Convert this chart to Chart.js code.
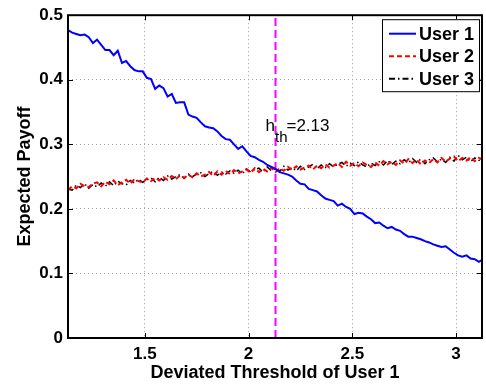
<!DOCTYPE html>
<html>
<head>
<meta charset="utf-8">
<script src="https://cdn.jsdelivr.net/npm/chart.js@4/dist/chart.umd.min.js"></script>
<style>
  html, body { margin: 0; padding: 0; background: #fff; }
  #wrap { width: 486px; height: 388px; }
</style>
</head>
<body>
<div id="wrap"><canvas id="payoffChart"></canvas></div>
<script>
// deviated threshold grid (x), step 0.02
const thresholds = [
  1.13, 1.15, 1.17, 1.19, 1.21, 1.23, 1.25, 1.27, 1.29, 1.31,
  1.33, 1.35, 1.37, 1.39, 1.41, 1.43, 1.45, 1.47, 1.49, 1.51,
  1.53, 1.55, 1.57, 1.59, 1.61, 1.63, 1.65, 1.67, 1.69, 1.71,
  1.73, 1.75, 1.77, 1.79, 1.81, 1.83, 1.85, 1.87, 1.89, 1.91,
  1.93, 1.95, 1.97, 1.99, 2.01, 2.03, 2.05, 2.07, 2.09, 2.11,
  2.13, 2.15, 2.17, 2.19, 2.21, 2.23, 2.25, 2.27, 2.29, 2.31,
  2.33, 2.35, 2.37, 2.39, 2.41, 2.43, 2.45, 2.47, 2.49, 2.51,
  2.53, 2.55, 2.57, 2.59, 2.61, 2.63, 2.65, 2.67, 2.69, 2.71,
  2.73, 2.75, 2.77, 2.79, 2.81, 2.83, 2.85, 2.87, 2.89, 2.91,
  2.93, 2.95, 2.97, 2.99, 3.01, 3.03, 3.05, 3.07, 3.09, 3.11,
  3.13
];

const user1 = [
  0.477, 0.473, 0.471, 0.469, 0.470, 0.466, 0.457, 0.462, 0.454, 0.446,
  0.446, 0.438, 0.445, 0.426, 0.429, 0.421, 0.415, 0.413, 0.413, 0.403,
  0.401, 0.386, 0.391, 0.387, 0.374, 0.378, 0.364, 0.365, 0.365, 0.346,
  0.343, 0.341, 0.334, 0.328, 0.326, 0.325, 0.320, 0.313, 0.308, 0.307,
  0.300, 0.293, 0.297, 0.289, 0.282, 0.280, 0.276, 0.273, 0.268, 0.265,
  0.262, 0.257, 0.255, 0.253, 0.250, 0.244, 0.239, 0.238, 0.231, 0.229,
  0.227, 0.221, 0.216, 0.214, 0.212, 0.205, 0.208, 0.203, 0.200, 0.192,
  0.194, 0.193, 0.188, 0.184, 0.178, 0.179, 0.174, 0.170, 0.172, 0.168,
  0.166, 0.161, 0.157, 0.157, 0.155, 0.153, 0.150, 0.148, 0.145, 0.143,
  0.141, 0.142, 0.137, 0.132, 0.128, 0.126, 0.128, 0.123, 0.122, 0.118,
  0.122
];

const user2 = [
  0.229, 0.235, 0.232, 0.239, 0.235, 0.234, 0.239, 0.241, 0.235, 0.242,
  0.238, 0.244, 0.237, 0.241, 0.245, 0.239, 0.246, 0.243, 0.241, 0.247,
  0.243, 0.248, 0.244, 0.249, 0.245, 0.251, 0.246, 0.252, 0.248, 0.253,
  0.249, 0.255, 0.250, 0.253, 0.257, 0.251, 0.258, 0.253, 0.259, 0.254,
  0.260, 0.255, 0.258, 0.261, 0.256, 0.263, 0.257, 0.262, 0.258, 0.264,
  0.257, 0.263, 0.259, 0.265, 0.260, 0.266, 0.261, 0.264, 0.267, 0.261,
  0.267, 0.263, 0.269, 0.264, 0.267, 0.271, 0.265, 0.273, 0.267, 0.271,
  0.266, 0.272, 0.268, 0.265, 0.272, 0.267, 0.274, 0.269, 0.273, 0.268,
  0.275, 0.270, 0.277, 0.271, 0.276, 0.269, 0.275, 0.271, 0.277, 0.272,
  0.279, 0.273, 0.278, 0.281, 0.274, 0.279, 0.275, 0.280, 0.274, 0.279,
  0.276
];

const user3 = [
  0.231, 0.229, 0.237, 0.233, 0.239, 0.232, 0.238, 0.234, 0.240, 0.235,
  0.242, 0.236, 0.243, 0.239, 0.237, 0.244, 0.240, 0.246, 0.241, 0.245,
  0.248, 0.242, 0.249, 0.244, 0.251, 0.246, 0.250, 0.253, 0.247, 0.254,
  0.250, 0.254, 0.256, 0.250, 0.255, 0.258, 0.252, 0.257, 0.254, 0.259,
  0.255, 0.260, 0.254, 0.262, 0.257, 0.261, 0.263, 0.257, 0.265, 0.259,
  0.263, 0.258, 0.266, 0.260, 0.264, 0.259, 0.266, 0.261, 0.265, 0.269,
  0.262, 0.268, 0.264, 0.270, 0.265, 0.269, 0.272, 0.266, 0.271, 0.267,
  0.273, 0.268, 0.265, 0.271, 0.267, 0.273, 0.268, 0.275, 0.269, 0.274,
  0.270, 0.276, 0.271, 0.278, 0.272, 0.277, 0.270, 0.276, 0.279, 0.273,
  0.277, 0.272, 0.280, 0.274, 0.283, 0.276, 0.280, 0.273, 0.279, 0.275,
  0.277
];

const xTicks = [1.5, 2, 2.5, 3];
const yTicks = [0, 0.1, 0.2, 0.3, 0.4, 0.5];
const hth = 2.13;           // equilibrium threshold marker
const hthLabelY = 0.321;    // where the h_th text sits

const FONT = '"Liberation Sans", Arial, Helvetica, sans-serif';

function pts(ys){
  return ys.map((y, i) => ({x: thresholds[i], y: y}));
}

// box, inward tick marks, h_th label and legend drawn on top
const matlabAxes = {
  id: 'matlabAxes',
  afterDraw(chart){
    const ctx = chart.ctx;
    const a = chart.chartArea;
    const xs = chart.scales.x, ys = chart.scales.y;
    ctx.save();
    // tick marks pointing inwards
    ctx.strokeStyle = '#000';
    ctx.lineWidth = 1;
    ctx.beginPath();
    xTicks.forEach(v => {
      const px = Math.round(xs.getPixelForValue(v)) + 0.5;
      ctx.moveTo(px, a.bottom); ctx.lineTo(px, a.bottom - 5);
      ctx.moveTo(px, a.top); ctx.lineTo(px, a.top + 5);
    });
    yTicks.forEach(v => {
      const py = Math.round(ys.getPixelForValue(v)) + 0.5;
      ctx.moveTo(a.left, py); ctx.lineTo(a.left + 5, py);
      ctx.moveTo(a.right, py); ctx.lineTo(a.right - 5, py);
    });
    ctx.stroke();
    // axes box
    ctx.lineWidth = 2;
    ctx.strokeRect(a.left, a.top, a.right - a.left, a.bottom - a.top);

    // h_th = 2.13 label
    const bx = xs.getPixelForValue(hth) - 10;
    const by = ys.getPixelForValue(hthLabelY);
    ctx.fillStyle = '#000';
    ctx.textBaseline = 'alphabetic';
    ctx.textAlign = 'left';
    ctx.font = '17px ' + FONT;
    ctx.fillText('h', bx, by);
    let cx = bx + ctx.measureText('h').width;
    ctx.font = '15px ' + FONT;
    ctx.fillText('th', cx, by + 11);
    cx += ctx.measureText('th').width - 1;
    ctx.font = '17px ' + FONT;
    ctx.fillText('=' + hth.toFixed(2), cx, by);

    // legend in the upper right corner
    const sets = chart.data.datasets.slice(0, 3);
    const lx = a.right - 100, ly = a.top + 4, lw = 97, lh = 72;
    ctx.fillStyle = '#fff';
    ctx.fillRect(lx, ly, lw, lh);
    ctx.lineWidth = 1;
    ctx.strokeStyle = '#000';
    ctx.strokeRect(lx + 0.5, ly + 0.5, lw, lh);
    sets.forEach((ds, i) => {
      const ry = ly + 14.5 + i * 22.5;
      ctx.beginPath();
      ctx.strokeStyle = ds.borderColor;
      ctx.lineWidth = 2;
      ctx.setLineDash(ds.borderDash || []);
      ctx.moveTo(lx + 7, ry);
      ctx.lineTo(lx + 34, ry);
      ctx.stroke();
      ctx.setLineDash([]);
      ctx.fillStyle = '#000';
      ctx.font = 'bold 18px ' + FONT;
      ctx.textBaseline = 'middle';
      ctx.fillText(ds.label, lx + 37, ry + 1);
    });
    ctx.restore();
  }
};

new Chart(document.getElementById('payoffChart'), {
  type: 'line',
  data: {
    datasets: [
      {
        label: 'User 1',
        data: pts(user1),
        borderColor: '#0000ff',
        borderWidth: 2,
        pointRadius: 0,
        tension: 0
      },
      {
        label: 'User 2',
        data: pts(user2),
        borderColor: '#ff0000',
        borderWidth: 2,
        borderDash: [5, 3],
        pointRadius: 0,
        tension: 0
      },
      {
        label: 'User 3',
        data: pts(user3),
        borderColor: '#000000',
        borderWidth: 1.5,
        borderDash: [6, 3, 1.5, 3],
        pointRadius: 0,
        tension: 0
      },
      {
        label: 'threshold',
        data: [{x: hth, y: 0}, {x: hth, y: 0.5}],
        borderColor: '#ff00ff',
        borderWidth: 2,
        borderDash: [8, 4],
        pointRadius: 0
      }
    ]
  },
  options: {
    responsive: true,
    maintainAspectRatio: false,
    animation: false,
    layout: { padding: { top: 11, right: 4, left: 0, bottom: 0 } },
    scales: {
      x: {
        type: 'linear',
        min: 1.13,
        max: 3.125,
        afterBuildTicks: s => { s.ticks = xTicks.map(v => ({value: v})); },
        afterFit: s => { s.height = 50; },
        ticks: {
          color: '#000',
          padding: 6,
          maxRotation: 0,
          font: { family: FONT, size: 17, weight: 'bold' },
          callback: v => String(v)
        },
        grid: { color: '#a0a0a0', drawTicks: false, lineWidth: 1 },
        border: { display: false, dash: [1, 3] },
        title: {
          display: true,
          text: 'Deviated Threshold of User 1',
          color: '#000',
          font: { family: FONT, size: 18, weight: 'bold' },
          padding: { top: 0, bottom: 4 }
        }
      },
      y: {
        min: 0,
        max: 0.5,
        afterBuildTicks: s => { s.ticks = yTicks.map(v => ({value: v})); },
        afterFit: s => { s.width = 68; },
        ticks: {
          color: '#000',
          padding: 5,
          font: { family: FONT, size: 17, weight: 'bold' },
          callback: v => (v === 0 ? '0' : v.toFixed(1))
        },
        grid: { color: '#a0a0a0', drawTicks: false, lineWidth: 1 },
        border: { display: false, dash: [1, 3] },
        title: {
          display: true,
          text: 'Expected Payoff',
          color: '#000',
          font: { family: FONT, size: 18, weight: 'bold' },
          padding: { top: 14, bottom: 0 }
        }
      }
    },
    plugins: {
      legend: { display: false },
      tooltip: { enabled: false }
    }
  },
  plugins: [matlabAxes]
});
</script>
</body>
</html>
